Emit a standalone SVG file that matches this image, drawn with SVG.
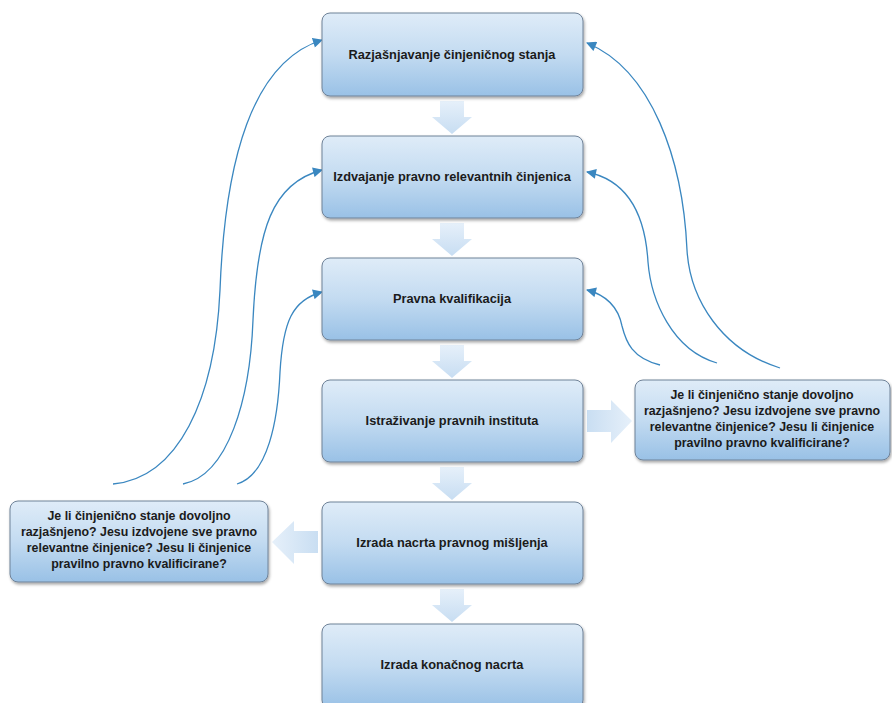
<svg xmlns="http://www.w3.org/2000/svg" width="892" height="703" viewBox="0 0 892 703">
<defs>
<linearGradient id="boxg" x1="0" y1="0" x2="0" y2="1">
<stop offset="0" stop-color="#dfecf8"/>
<stop offset="0.5" stop-color="#c3dbf1"/>
<stop offset="1" stop-color="#99c1e6"/>
</linearGradient>
<linearGradient id="arrg" x1="0" y1="0" x2="0" y2="1">
<stop offset="0" stop-color="#e6f0fa"/>
<stop offset="1" stop-color="#c7ddf2"/>
</linearGradient>
<linearGradient id="arrh" x1="0" y1="0" x2="1" y2="0">
<stop offset="0" stop-color="#c9def2"/>
<stop offset="1" stop-color="#e6f0fa"/>
</linearGradient>
<filter id="sh" x="-10%" y="-10%" width="120%" height="130%">
<feDropShadow dx="1" dy="2" stdDeviation="1.5" flood-color="#000" flood-opacity="0.35"/>
</filter>
<marker id="ah" viewBox="0 0 10 10" refX="9" refY="5" markerWidth="11" markerHeight="10" markerUnits="userSpaceOnUse" orient="auto">
<path d="M0,0 L10,5 L0,10 z" fill="#3a87c0"/>
</marker>
</defs>
<style>
.box{fill:url(#boxg);stroke:#6f8298;stroke-width:1;filter:url(#sh)}
.t{font-family:"Liberation Sans",Arial,sans-serif;font-weight:bold;font-size:12.8px;fill:#1b1b1b;text-anchor:middle}
.q{font-size:12.4px}
.c{fill:none;stroke:#3a87c0;stroke-width:1.3}
.fa{fill:url(#arrg)}
</style>
<rect width="892" height="703" fill="#ffffff"/>
<g id="connectors">
<path class="fa" d="M440,101 L464,101 L464,117 L472,117 L452,134 L432,117 L440,117 z"/>
<path class="fa" d="M440,223 L464,223 L464,239 L472,239 L452,256 L432,239 L440,239 z"/>
<path class="fa" d="M440,345 L464,345 L464,361 L472,361 L452,378 L432,361 L440,361 z"/>
<path class="fa" d="M440,467 L464,467 L464,483 L472,483 L452,500 L432,483 L440,483 z"/>
<path class="fa" d="M440,589 L464,589 L464,605 L472,605 L452,622 L432,605 L440,605 z"/>
<path fill="url(#arrh)" d="M587,410 L611,410 L611,400 L632,421 L611,443 L611,432 L587,432 z"/>
<path fill="url(#arrh)" transform="translate(590,0) scale(-1,1)" d="M272,531 L296,531 L296,521 L318,542 L296,564 L296,553 L272,553 z"/>
<path class="c" marker-end="url(#ah)" d="M113,484 C178,478 215,400 220,290 C225,160 252,62 322,40"/>
<path class="c" marker-end="url(#ah)" d="M183,484 C228,475 250,400 253,320 C257,230 272,183 322,170"/>
<path class="c" marker-end="url(#ah)" d="M237,484 C268,475 278,420 280,372 C283,322 292,300 322,292"/>
<path class="c" marker-end="url(#ah)" d="M780,368 C722,350 690,300 687,250 C683,160 652,70 587,43"/>
<path class="c" marker-end="url(#ah)" d="M717,363 C672,350 651,300 648,262 C645,212 626,180 587,172"/>
<path class="c" marker-end="url(#ah)" d="M660,365 C632,358 626,342 622,326 C618,306 606,295 587,290"/>
</g>
<g id="n1"><rect class="box" x="322" y="13" width="261" height="83" rx="8"/><text class="t" x="452" y="59">Razjašnjavanje činjeničnog stanja</text></g>
<g id="n2"><rect class="box" x="322" y="136" width="261" height="82" rx="8"/><text class="t" x="452" y="181">Izdvajanje pravno relevantnih činjenica</text></g>
<g id="n3"><rect class="box" x="322" y="258" width="261" height="82" rx="8"/><text class="t" x="452" y="303">Pravna kvalifikacija</text></g>
<g id="n4"><rect class="box" x="322" y="380" width="261" height="82" rx="8"/><text class="t" x="452" y="425">Istraživanje pravnih instituta</text></g>
<g id="n5"><rect class="box" x="322" y="502" width="261" height="82" rx="8"/><text class="t" x="452" y="547">Izrada nacrta pravnog mišljenja</text></g>
<g id="n6"><rect class="box" x="322" y="624" width="261" height="84" rx="8"/><text class="t" x="452" y="669">Izrada konačnog nacrta</text></g>
<g id="n7"><rect class="box" x="635" y="380" width="255" height="80" rx="8"/>
<text class="t q" x="762" y="399">Je li činjenično stanje dovoljno</text>
<text class="t q" x="762" y="415">razjašnjeno? Jesu izdvojene sve pravno</text>
<text class="t q" x="762" y="431">relevantne činjenice? Jesu li činjenice</text>
<text class="t q" x="762" y="447">pravilno pravno kvalificirane?</text></g>
<g id="n8"><rect class="box" x="10" y="501" width="258" height="81" rx="8"/>
<text class="t q" x="139" y="520">Je li činjenično stanje dovoljno</text>
<text class="t q" x="139" y="536">razjašnjeno? Jesu izdvojene sve pravno</text>
<text class="t q" x="139" y="552">relevantne činjenice? Jesu li činjenice</text>
<text class="t q" x="139" y="568">pravilno pravno kvalificirane?</text></g>
</svg>
